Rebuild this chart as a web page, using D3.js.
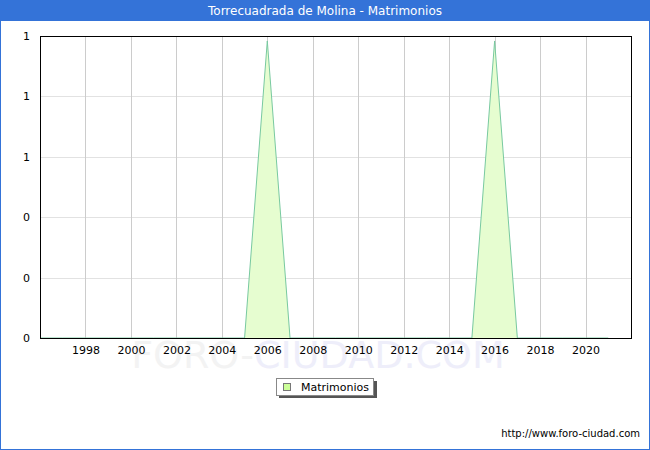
<!DOCTYPE html>
<html><head><meta charset="utf-8">
<script src="https://cdn.jsdelivr.net/npm/d3@7"></script>
<style>body{margin:0;background:#fff}svg{display:block}</style>
</head><body>
<script>
const title = "Torrecuadrada de Molina - Matrimonios";
const seriesName = "Matrimonios";
const years = [1996,1997,1998,1999,2000,2001,2002,2003,2004,2005,2006,2007,2008,2009,2010,2011,2012,2013,2014,2015,2016,2017,2018,2019,2020,2021];
const values = [0,0,0,0,0,0,0,0,0,0,1,0,0,0,0,0,0,0,0,0,1,0,0,0,0,0];
const xTicks = [1998,2000,2002,2004,2006,2008,2010,2012,2014,2016,2018,2020];
const yMax = 1.0167;

const W=650,H=450;
const m={l:40,r:19,t:36,b:112};
const svg=d3.select("body").append("svg").attr("width",W).attr("height",H)
  .style("font-family","'DejaVu Sans', Verdana, sans-serif");
svg.append("rect").attr("x",0.5).attr("y",0.5).attr("width",W-1).attr("height",H-1)
  .attr("fill","#fff").attr("stroke","#3473d8");
svg.append("rect").attr("x",0).attr("y",0).attr("width",W).attr("height",21).attr("fill","#3473d8");
svg.append("text").attr("x",W/2).attr("y",15).attr("text-anchor","middle")
  .attr("fill","#fff").attr("font-size",12).text(title);

const x=d3.scaleLinear().domain([1996,2022]).range([m.l,W-m.r]);
const y=d3.scaleLinear().domain([0,yMax]).range([H-m.b,m.t]);
const yTicks=d3.range(6).map(i=>i*yMax/5);

// watermark
const wm=svg.append("text").attr("x",318).attr("y",368).attr("text-anchor","middle")
  .attr("font-size",38).attr("font-family","'DejaVu Sans', Verdana, sans-serif");
wm.append("tspan").attr("fill","#f3f3f3").text("FORO-");
wm.append("tspan").attr("fill","#eeeefa").text("CIUDAD.COM");

const g=svg.append("g");
// grid
g.selectAll(".hg").data(yTicks).join("line")
  .attr("x1",m.l).attr("x2",W-m.r).attr("y1",d=>Math.round(y(d))+0.5).attr("y2",d=>Math.round(y(d))+0.5)
  .attr("stroke","#e2e2e2");
g.selectAll(".vg").data(xTicks).join("line")
  .attr("x1",d=>Math.round(x(d))+0.5).attr("x2",d=>Math.round(x(d))+0.5).attr("y1",m.t).attr("y2",H-m.b)
  .attr("stroke","#cccccc");

// area
const area=d3.area().x((d,i)=>x(years[i])).y0(y(0)).y1(d=>y(d));
g.append("path").datum(values).attr("d",area).attr("fill","#e6fdd0").attr("stroke","none");
const line=d3.line().x((d,i)=>x(years[i])).y(d=>y(d));
g.append("path").datum(values).attr("d",line).attr("fill","none").attr("stroke","#78c9a0").attr("stroke-width",1);

// frame
svg.append("rect").attr("x",m.l+0.5).attr("y",m.t+0.5).attr("width",W-m.r-m.l).attr("height",H-m.b-m.t)
  .attr("fill","none").attr("stroke","#000");

// axes
const xAxis=d3.axisBottom(x).tickValues(xTicks).tickFormat(d3.format("d")).tickSize(0).tickPadding(8);
const ax=svg.append("g").attr("transform",`translate(0,${H-m.b})`).call(xAxis);
ax.select(".domain").remove();
ax.selectAll("text").attr("font-size",11).attr("fill","#000").attr("font-family","'DejaVu Sans', Verdana, sans-serif");
const yAxis=d3.axisLeft(y).tickValues(yTicks).tickFormat(d3.format(".0f")).tickSize(0).tickPadding(10);
const ay=svg.append("g").attr("transform",`translate(${m.l},0)`).call(yAxis);
ay.select(".domain").remove();
ay.selectAll("text").attr("font-size",11).attr("fill","#000").attr("font-family","'DejaVu Sans', Verdana, sans-serif");

// legend
const lg=svg.append("g").attr("transform","translate(276,378)");
lg.append("rect").attr("x",3).attr("y",3).attr("width",98).attr("height",17).attr("fill","#555");
lg.append("rect").attr("x",0.5).attr("y",0.5).attr("width",97).attr("height",17).attr("fill","#fff").attr("stroke","#888");
lg.append("rect").attr("x",7.5).attr("y",5.5).attr("width",7).attr("height",7).attr("fill","#ccff99").attr("stroke","#777");
lg.append("text").attr("x",25).attr("y",13).attr("font-size",11).attr("fill","#000").text(seriesName);

svg.append("text").attr("x",640).attr("y",437).attr("text-anchor","end").attr("font-size",10)
  .attr("fill","#000").text("http://www.foro-ciudad.com");
</script>
</body></html>
